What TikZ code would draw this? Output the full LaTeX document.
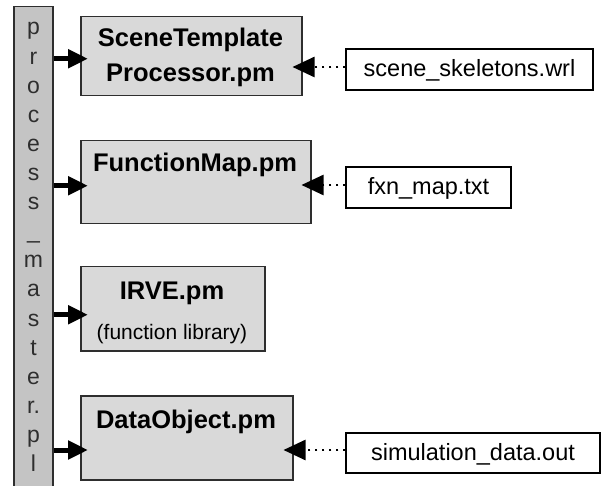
\documentclass[tikz,border=0pt]{standalone}
\usepackage{fontspec}
\setmainfont{Liberation Sans}
\usetikzlibrary{arrows.meta}
\definecolor{barfill}{HTML}{C4C4C4}
\definecolor{boxfill}{HTML}{D9D9D9}
\definecolor{edge}{HTML}{2E2E2E}
\begin{document}
\begin{tikzpicture}[x=1pt,y=-1pt,
  pmbox/.style={draw=edge,line width=1.5pt,fill=boxfill,anchor=north west,inner sep=0pt},
  filebox/.style={draw=black,line width=1.3pt,fill=white,inner sep=0pt,
    text height=17pt,text depth=3pt,font=\fontsize{23.5}{28}\selectfont},
  title/.style={anchor=base,inner sep=0pt,font=\fontsize{25.5}{30}\selectfont\bfseries},
  feed/.style={line width=5pt,-{Triangle[length=20pt,width=18pt]}},
  src/.style={line width=2.5pt,dash pattern=on 2.5pt off 4.5pt,
    -{Triangle[length=22pt,width=20pt]}}]
\useasboundingbox (0,0) rectangle (602,486);
% the driver script
\node [draw=edge,line width=1.5pt,fill=barfill,anchor=north,inner sep=0pt,
  minimum width=39pt,minimum height=492pt] (bar) at (33.5,6) {};
\foreach \c [count=\i] in {p,r,o,c,e,s,s,\_,m,a,s,t,e,r.,p,l}
  \node [anchor=base,inner sep=0pt,text=edge,font=\fontsize{23}{28}\selectfont]
    (ch\i) at (33.5,35+29.1*\i-29.1) {\c};
% the perl modules
\node [pmbox,minimum width=221pt,minimum height=79pt] (tmpl) at (80,16) {};
\node [pmbox,minimum width=230pt,minimum height=83pt] (fmap) at (80,140) {};
\node [pmbox,minimum width=184pt,minimum height=84pt] (irve) at (80,266) {};
\node [pmbox,minimum width=212pt,minimum height=84pt] (dobj) at (80,395) {};
\node [title] (tmpltop) at (190.5,47) {SceneTemplate};
\node [title] (tmplbot) at (190.5,82) {Processor.pm};
\node [title] (fmaptxt) at (195,172) {FunctionMap.pm};
\node [title] (irvetxt) at (172,299) {IRVE.pm};
\node [anchor=base,inner sep=0pt,font=\fontsize{21}{25}\selectfont] (irvesub) at (172,339) {(function library)};
\node [title] (dobjtxt) at (186,428) {DataObject.pm};
% the input files
\node [filebox,minimum width=247pt,minimum height=41pt] (scn) at (469.5,69.5) {scene\_skeletons.wrl};
\node [filebox,minimum width=165pt,minimum height=41pt] (fxn) at (428.5,187.5) {fxn\_map.txt};
\node [filebox,minimum width=254pt,minimum height=40pt] (sim) at (473,453) {simulation\_data.out};
% calls
\draw [feed] ([yshift=-2.5pt]bar.east |- tmpl.west) -- ([xshift=8pt,yshift=-2.5pt]tmpl.west);
\draw [feed] ([yshift=-3.5pt]bar.east |- fmap.west) -- ([xshift=8pt,yshift=-3.5pt]fmap.west);
\draw [feed] ([yshift=-6pt]bar.east |- irve.west) -- ([xshift=8pt,yshift=-6pt]irve.west);
\draw [feed] ([yshift=3pt]bar.east |- sim.west) -- ([xshift=8pt,yshift=3pt]dobj.west |- sim.west);
% reads
\draw [src] ([yshift=2.5pt]scn.west) -- ([xshift=-10pt,yshift=2.5pt]scn.west -| tmpl.east);
\draw [src] ([yshift=2.5pt]fxn.west) -- ([xshift=-10pt,yshift=2.5pt]fxn.west -| fmap.east);
\draw [src] ([yshift=3pt]sim.west) -- ([xshift=-10pt,yshift=3pt]sim.west -| dobj.east);
\end{tikzpicture}
\end{document}
